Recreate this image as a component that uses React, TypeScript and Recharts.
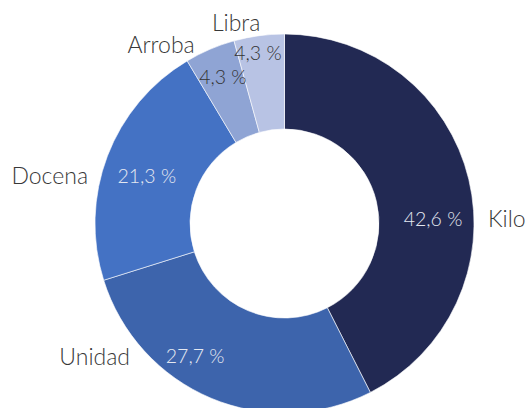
import { PieChart, Pie, Cell } from "recharts"

// Unit shares (percent)
const units = ["Kilo", "Unidad", "Docena", "Arroba", "Libra"]
const shares = [42.6, 27.7, 21.3, 4.3, 4.3]
const colors = ["#222953", "#3d64ac", "#4472c4", "#8fa4d4", "#b8c3e4"]

const data = units.map((name, i) => ({ name, value: shares[i] }))

// where Excel dropped the labels (polar, degrees ccw from 3 o'clock)
const valueSpots = [
  { angle: 2.1, r: 148.6, dark: false },
  { angle: 235.8, r: 159, dark: false },
  { angle: 160.6, r: 146, dark: false },
  { angle: 112.8, r: 159, dark: true },
  { angle: 98.8, r: 173.5, dark: true },
]
const nameSpots = [
  { angle: 1.5, r: 203.6, anchor: "start" },
  { angle: 220.6, r: 203.5, anchor: "end" },
  { angle: 166.1, r: 202.4, anchor: "end" },
  { angle: 124.5, r: 217.9, anchor: "middle" },
  { angle: 103.5, r: 207.3, anchor: "middle" },
]

const RAD = Math.PI / 180
const font = "Lato, 'Open Sans', sans-serif"

function renderLabel(props: any) {
  const { cx, cy, index, name, value } = props
  const v = valueSpots[index]
  const n = nameSpots[index]
  const vx = cx + v.r * Math.cos(v.angle * RAD)
  const vy = cy - v.r * Math.sin(v.angle * RAD)
  const nx = cx + n.r * Math.cos(n.angle * RAD)
  const ny = cy - n.r * Math.sin(n.angle * RAD)
  return (
    <g>
      <text
        x={vx}
        y={vy}
        textAnchor="middle"
        dominantBaseline="central"
        fill={v.dark ? "#333333" : "#e4e8f1"}
        fontSize={19.5}
        fontWeight={300}
        fontFamily={font}
      >
        {value.toFixed(1).replace(".", ",")} %
      </text>
      <text
        x={nx}
        y={ny}
        textAnchor={n.anchor}
        dominantBaseline="central"
        fill="#383838"
        fontSize={23}
        fontWeight={300}
        fontFamily={font}
      >
        {name}
      </text>
    </g>
  )
}

export default function App() {
  return (
    <div style={{ position: "absolute", left: 0, top: 0, width: 529, height: 408, background: "#fff" }}>
      <PieChart width={529} height={408} margin={{ top: 0, right: 0, bottom: 0, left: 0 }}>
        <Pie
          data={data}
          dataKey="value"
          nameKey="name"
          cx={284.5}
          cy={223.5}
          innerRadius={94.5}
          outerRadius={189.5}
          startAngle={90}
          endAngle={-270}
          stroke="#ffffff"
          strokeWidth={0.6}
          label={renderLabel}
          labelLine={false}
          isAnimationActive={false}
        >
          {data.map((d, i) => (
            <Cell key={d.name} fill={colors[i]} />
          ))}
        </Pie>
      </PieChart>
    </div>
  )
}
